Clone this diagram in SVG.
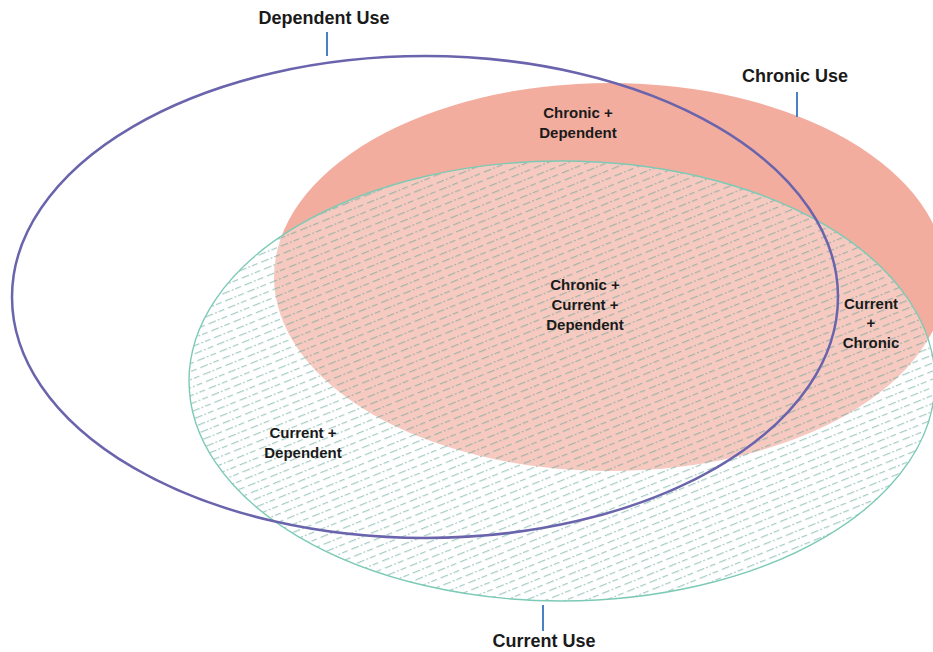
<svg xmlns="http://www.w3.org/2000/svg" width="933" height="652" viewBox="0 0 933 652">
<defs>
<pattern id="hatch" patternUnits="userSpaceOnUse" width="24" height="7.5" patternTransform="rotate(-22)">
<rect width="24" height="7.5" fill="#ffffff" fill-opacity="0.35"/>
<line x1="0" y1="3.5" x2="24" y2="3.5" stroke="#5a9e92" stroke-width="0.9" stroke-dasharray="8 2 2 2 6 4" stroke-opacity="0.75"/>
</pattern>
<style>
.lbl{font-family:"Liberation Sans",Arial,sans-serif;font-weight:bold;fill:#1a1a1a;text-anchor:middle}
.big{font-size:18px}
.sm{font-size:15px}
.tick{stroke:#4a80c4;stroke-width:2}
</style>
</defs>
<g id="chronic">
<ellipse cx="610" cy="277" rx="336" ry="194" fill="#f3ad9f"/>
</g>
<g id="current">
<ellipse cx="562" cy="381" rx="373" ry="220" fill="url(#hatch)" stroke="#7ccab6" stroke-width="1.4"/>
</g>
<g id="dependent">
<ellipse cx="425" cy="297" rx="413" ry="241" fill="none" stroke="#6a64ad" stroke-width="2.5"/>
</g>
<g id="connectors">
<line class="tick" x1="327" y1="32" x2="327" y2="56"/>
<line class="tick" x1="797" y1="92" x2="797" y2="117"/>
<line class="tick" x1="543" y1="605" x2="543" y2="631"/>
</g>
<g id="labels">
<text class="lbl big" x="324" y="24">Dependent Use</text>
<text class="lbl big" x="795" y="82">Chronic Use</text>
<text class="lbl big" x="544" y="647">Current Use</text>
<text class="lbl sm" x="578" y="118">Chronic +</text>
<text class="lbl sm" x="578" y="138">Dependent</text>
<text class="lbl sm" x="585" y="290">Chronic  +</text>
<text class="lbl sm" x="585" y="310">Current +</text>
<text class="lbl sm" x="585" y="330">Dependent</text>
<text class="lbl sm" x="871" y="309">Current</text>
<text class="lbl sm" x="871" y="328">+</text>
<text class="lbl sm" x="871" y="348">Chronic</text>
<text class="lbl sm" x="303" y="438">Current  +</text>
<text class="lbl sm" x="303" y="458">Dependent</text>
</g>
</svg>
